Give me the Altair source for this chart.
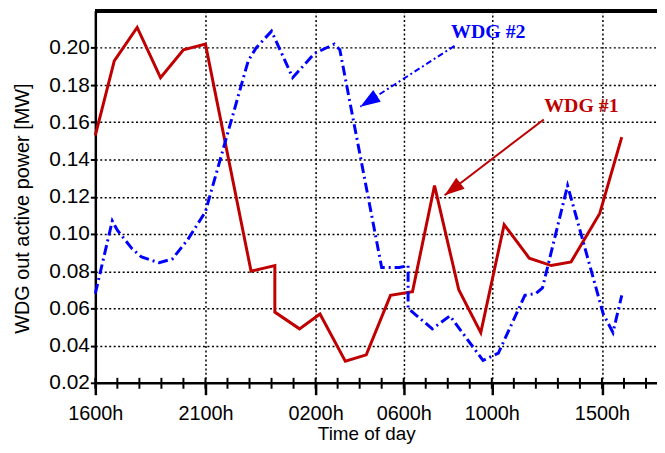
import altair as alt
import pandas as pd
import math

# ---- data (x = hours after 1600h) ----
hours_wdg1 = [0, 0.86, 1.9, 2.96, 4.0, 5.0, 7.07, 8.15, 8.15, 9.27, 10.2, 11.35, 12.3,
              13.4, 14.4, 15.4, 16.5, 17.5, 18.56, 19.7, 20.7, 21.6, 22.9, 23.9]
power_wdg1 = [0.153, 0.193, 0.211, 0.184, 0.199, 0.202, 0.080, 0.083, 0.058, 0.049, 0.057,
              0.0316, 0.035, 0.067, 0.069, 0.126, 0.070, 0.047, 0.105, 0.087, 0.083, 0.085,
              0.111, 0.152]

hours_wdg2 = [0, 0.77, 1.0, 1.67, 2.1, 2.9, 3.5, 4.2, 5.0, 6.94, 7.3, 8.0, 8.96, 9.95,
              10.85, 11.1, 13.0, 13.8, 14.2, 14.2, 15.3, 16.1, 17.6, 18.3, 19.5, 20.0,
              20.3, 21.44, 23.06, 23.5, 23.9]
power_wdg2 = [0.068, 0.107, 0.102, 0.092, 0.0876, 0.0845, 0.0866, 0.097, 0.112, 0.193,
              0.200, 0.209, 0.184, 0.197, 0.202, 0.199, 0.082, 0.082, 0.083, 0.060, 0.049,
              0.056, 0.032, 0.036, 0.067, 0.068, 0.071, 0.126, 0.057, 0.047, 0.067]

tick_hours = [0, 5, 10, 14, 18, 23]
tick_labels = ["1600h", "2100h", "0200h", "0600h", "1000h", "1500h"]
minor_hours = list(range(0, 26))
y_ticks = [0.02, 0.04, 0.06, 0.08, 0.10, 0.12, 0.14, 0.16, 0.18, 0.20]

series_names = ["WDG #1", "WDG #2"]
series_colors = ["#C00000", "#0000FF"]

# annotations (data coordinates)
label_h = [22.07, 17.84]
label_p = [0.1655, 0.2052]
arrow_start_h = [20.36, 16.31]
arrow_start_p = [0.1615, 0.2011]
arrow_tip_h = [15.86, 12.03]
arrow_tip_p = [0.1208, 0.1684]

W, H = 566, 375
X_MAX = 25.5
px_per_h = W / X_MAX
px_per_p = H / 0.20

angles = []
for sh, sp, th, tp in zip(arrow_start_h, arrow_start_p, arrow_tip_h, arrow_tip_p):
    dx = (th - sh) * px_per_h
    dy = -(tp - sp) * px_per_p
    angles.append(math.degrees(math.atan2(dx, -dy)) % 360)

df1 = pd.DataFrame({"h": hours_wdg1, "p": power_wdg1, "o": range(len(hours_wdg1))})
df2 = pd.DataFrame({"h": hours_wdg2, "p": power_wdg2, "o": range(len(hours_wdg2))})
ann = pd.DataFrame({
    "name": series_names, "color": series_colors,
    "h": label_h, "p": label_p,
    "sh": arrow_start_h, "sp": arrow_start_p,
    "th": arrow_tip_h, "tp": arrow_tip_p, "ang": angles,
})
minor = pd.DataFrame({"h": minor_hours})

label_expr = ""
for v, l in zip(tick_hours, tick_labels):
    label_expr += f"datum.value == {v} ? '{l}' : "
label_expr += "''"

xscale = alt.Scale(domain=[0, X_MAX], nice=False, zero=False)
yscale = alt.Scale(domain=[0.02, 0.22], nice=False, zero=False)

grid_common = dict(grid=True, gridColor="black", gridDash=[2, 2.5], gridWidth=1.5,
                   gridOpacity=1, domainColor="black", tickColor="black",
                   labelColor="black", titleColor="black",
                   labelFont="Liberation Sans", titleFont="Liberation Sans",
                   titleFontWeight="normal")

x_enc = alt.X("h:Q", scale=xscale, axis=alt.Axis(
    values=tick_hours, labelExpr=label_expr, title="Time of day",
    tickSize=12, tickWidth=2.5, domainWidth=2.5, labelFontSize=20, labelPadding=9,
    titleFontSize=19, titleX=273, titleY=57, titleBaseline="alphabetic",
    labelFlush=False, **grid_common))
y_enc = alt.Y("p:Q", scale=yscale, axis=alt.Axis(
    values=y_ticks, format=".2f", title="WDG out active power [MW]",
    tickSize=5, tickWidth=2, domainWidth=2.5, labelFontSize=21, labelPadding=1,
    titleFontSize=20, titleX=-67, titleY=199, titleBaseline="alphabetic",
    titleAngle=-90, **grid_common))

line1 = alt.Chart(df1).mark_line(color="#C00000", strokeWidth=3).encode(
    x=x_enc, y=y_enc, order="o:Q")
line2 = alt.Chart(df2).mark_line(color="#0000FF", strokeWidth=3,
                                 strokeDash=[10, 4, 2, 4]).encode(
    x="h:Q", y="p:Q", order="o:Q")

minor_ticks = alt.Chart(minor).mark_rule(color="black", strokeWidth=2).encode(
    x="h:Q", y=alt.value(H - 5), y2=alt.value(H + 6))

top_border = alt.Chart(minor).mark_rule(color="black", strokeWidth=3).encode(
    x=alt.value(0), x2=alt.value(W), y=alt.value(0))

arrow1 = alt.Chart(ann[ann["name"] == "WDG #1"]).mark_rule(
    color="#C00000", strokeWidth=2).encode(x="sh:Q", y="sp:Q", x2="th:Q", y2="tp:Q")
arrow2 = alt.Chart(ann[ann["name"] == "WDG #2"]).mark_rule(
    color="#0000FF", strokeWidth=2, strokeDash=[6, 3, 2, 3]).encode(
    x="sh:Q", y="sp:Q", x2="th:Q", y2="tp:Q")

heads = alt.Chart(ann).mark_point(
    shape="M0,0L-0.35,1L0.35,1Z", size=1600, filled=True, opacity=1,
    strokeWidth=0).encode(
    x="th:Q", y="tp:Q",
    color=alt.Color("color:N", scale=None),
    angle=alt.Angle("ang:Q", scale=None))

labels = alt.Chart(ann).mark_text(
    font="Liberation Serif", fontWeight="bold", fontSize=20,
    align="center", baseline="alphabetic").encode(
    x="h:Q", y="p:Q", text="name:N",
    color=alt.Color("color:N", scale=None))

chart = alt.layer(line1, line2, minor_ticks, top_border, arrow1, arrow2, heads, labels).properties(
    width=W, height=H,
    autosize=alt.AutoSizeParams(type="none"),
    padding={"left": 88, "top": 1, "right": 0, "bottom": 61},
    background="white",
).configure_view(stroke=None)

chart.save("out.html", embed_options={"renderer": "svg", "actions": False})
